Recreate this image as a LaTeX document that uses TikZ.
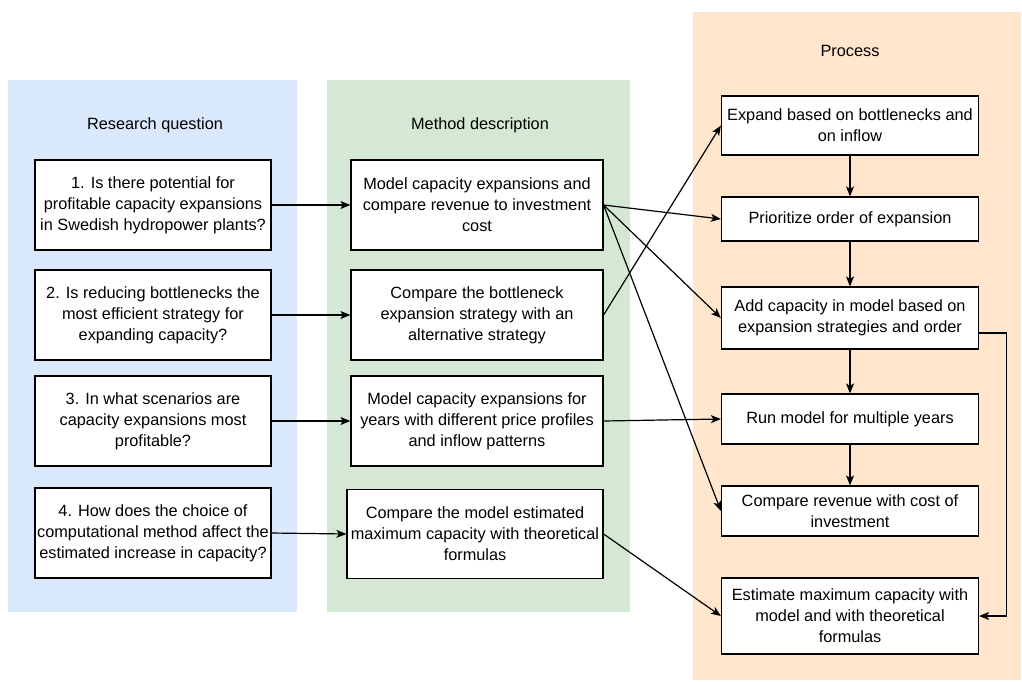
\documentclass[tikz,border=0pt]{standalone}
\usepackage{fontspec}
\setmainfont{Liberation Sans}
\usetikzlibrary{arrows.meta}
\definecolor{pblue}{HTML}{DAE8FC}
\definecolor{pgreen}{HTML}{D5E8D4}
\definecolor{porange}{HTML}{FFE6CC}
\tikzset{
  box/.style={draw=black, fill=white, line width=1.2pt, rectangle, align=center, inner sep=0pt,
    font=\fontsize{16.3}{21}\selectfont},
  ttl/.style={inner sep=0pt, font=\fontsize{16.3}{21}\selectfont},
  arr/.style={line width=1.2pt, -{Stealth[length=10pt,width=8pt,inset=2.5pt]}},
}
\begin{document}
\begin{tikzpicture}[x=1pt,y=-1pt]
\useasboundingbox (0,0) rectangle (1022,681);
% panels
\fill[pblue] (8,80) rectangle (297,612);
\fill[pgreen] (327,80) rectangle (630,612);
\fill[porange] (693,12) rectangle (1021,680);
% titles
\node[ttl] (t1) at (155,125) {Research question};
\node[ttl] (t2) at (480,125) {Method description};
\node[ttl] (t3) at (850,51) {Process};
% research questions
\node[box, minimum width=236pt, minimum height=90pt] (Q1) at (153,205) {1. Is there potential for\\profitable capacity expansions\\in Swedish hydropower plants?};
\node[box, minimum width=236pt, minimum height=90pt] (Q2) at (153,315) {2. Is reducing bottlenecks the\\most efficient strategy for\\expanding capacity?};
\node[box, minimum width=236pt, minimum height=90pt] (Q3) at (153,421) {3. In what scenarios are\\capacity expansions most\\profitable?};
\node[box, minimum width=236pt, minimum height=90pt] (Q4) at (153,533) {4. How does the choice of\\computational method affect the\\estimated increase in capacity?};
% methods
\node[box, minimum width=252pt, minimum height=90pt] (M1) at (477,205) {Model capacity expansions and\\compare revenue to investment\\cost};
\node[box, minimum width=252pt, minimum height=90pt] (M2) at (477,315) {Compare the bottleneck\\expansion strategy with an\\alternative strategy};
\node[box, minimum width=252pt, minimum height=90pt] (M3) at (477,421) {Model capacity expansions for\\years with different price profiles\\and inflow patterns};
\node[box, minimum width=256pt, minimum height=89pt] (M4) at (475,534) {Compare the model estimated\\maximum capacity with theoretical\\formulas};
% process
\node[box, minimum width=257pt, minimum height=59pt] (P1) at (850,125.5) {Expand based on bottlenecks and\\on inflow};
\node[box, minimum width=257pt, minimum height=44pt] (P2) at (850,219) {Prioritize order of expansion};
\node[box, minimum width=257pt, minimum height=62pt] (P3) at (850,318) {Add capacity in model based on\\expansion strategies and order};
\node[box, minimum width=257pt, minimum height=50pt] (P4) at (850,419) {Run model for multiple years};
\node[box, minimum width=257pt, minimum height=50pt] (P5) at (850,511) {Compare revenue with cost of\\investment};
\node[box, minimum width=257pt, minimum height=76pt] (P6) at (850,616) {Estimate maximum capacity with\\model and with theoretical\\formulas};
% connectors
\draw[arr] (Q1.east) -- (M1.west);
\draw[arr] (Q2.east) -- (M2.west);
\draw[arr] (Q3.east) -- (M3.west);
\draw[arr] (Q4.east) -- (M4.west);
\draw[arr] (M1.east) -- (P2.west);
\draw[arr] (M1.east) -- (P3.west);
\draw[arr] (M1.east) -- (P5.west);
\draw[arr] (M2.east) -- (P1.west);
\draw[arr] (M3.east) -- (P4.west);
\draw[arr] (M4.east) -- (P6.west);
\draw[arr] (P1.south) -- (P2.north);
\draw[arr] (P2.south) -- (P3.north);
\draw[arr] (P3.south) -- (P4.north);
\draw[arr] (P4.south) -- (P5.north);
\draw[arr] ([yshift=-15pt]P3.east) -| ([xshift=27pt]P6.east) -- (P6.east);
\end{tikzpicture}
\end{document}
